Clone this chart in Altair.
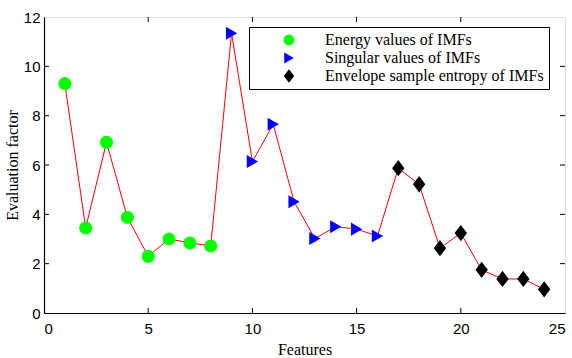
import altair as alt
import pandas as pd

features = list(range(1, 25))
energy = [9.3, 3.45, 6.92, 3.88, 2.3, 3.0, 2.84, 2.72]
singular = [11.34, 6.14, 7.65, 4.51, 3.02, 3.5, 3.4, 3.12]
entropy = [5.87, 5.22, 2.63, 3.24, 1.75, 1.38, 1.38, 0.96]
groups = ["Energy values of IMFs", "Singular values of IMFs", "Envelope sample entropy of IMFs"]
x_ticks = [5, 10, 15, 20]
y_ticks = [2, 4, 6, 8, 10]

values = energy + singular + entropy
labels = [groups[0]] * 8 + [groups[1]] * 8 + [groups[2]] * 8
df = pd.DataFrame({"x": features, "y": values, "g": labels})

W, H = 521, 296
xs = alt.Scale(domain=[0, 25], nice=False)
ys = alt.Scale(domain=[0, 12], nice=False)

base = alt.Chart(df)
line = base.mark_line(color="#ff0000", strokeWidth=1).encode(
    x=alt.X("x:Q", scale=xs, title="Features",
            axis=alt.Axis(values=[0, 5, 10, 15, 20, 25], tickSize=0, labelPadding=8,
                          labelFontSize=15, labelFont="Liberation Sans", labelColor="black",
                          titleFont="Liberation Serif", titleFontSize=16, titleFontWeight="normal",
                          titleColor="black", titlePadding=5, domainColor="black", domainWidth=1.2,
                          grid=False)),
    y=alt.Y("y:Q", scale=ys, title="Evaluation factor",
            axis=alt.Axis(values=[0, 2, 4, 6, 8, 10, 12], tickSize=0, labelPadding=4,
                          labelFontSize=15, labelFont="Liberation Sans", labelColor="black",
                          titleFont="Liberation Serif", titleFontSize=16, titleFontWeight="normal",
                          titleColor="black", titlePadding=3, domainColor="black", domainWidth=1.2,
                          grid=False)),
    order="x:Q",
)

diamond = "M0,-1.25L0.95,0L0,1.25L-0.95,0Z"
points = base.mark_point(filled=True, opacity=1, size=170).encode(
    x=alt.X("x:Q", scale=xs),
    y=alt.Y("y:Q", scale=ys),
    color=alt.Color("g:N", scale=alt.Scale(domain=groups, range=["#00ff00", "#0000ff", "#000000"]),
                    legend=alt.Legend(title=None, orient="none", legendX=205, legendY=10,
                                      labelFont="Liberation Serif", labelFontSize=16, labelColor="black",
                                      strokeColor="black", fillColor="white", padding=5,
                                      symbolOffset=27, labelOffset=28, rowPadding=2,
                                      symbolSize=120, labelLimit=400)),
    shape=alt.Shape("g:N", scale=alt.Scale(domain=groups, range=["circle", "triangle-right", diamond]),
                    legend=None),
)

tdf_x = pd.DataFrame({"t": x_ticks})
tdf_y = pd.DataFrame({"t": y_ticks})
tb = alt.Chart(tdf_x).mark_rule(color="black", strokeWidth=1).encode(
    x=alt.X("t:Q", scale=xs), y=alt.value(H), y2=alt.value(H - 5))
tt = alt.Chart(tdf_x).mark_rule(color="black", strokeWidth=1).encode(
    x=alt.X("t:Q", scale=xs), y=alt.value(0), y2=alt.value(5))
tl = alt.Chart(tdf_y).mark_rule(color="black", strokeWidth=1).encode(
    y=alt.Y("t:Q", scale=ys), x=alt.value(0), x2=alt.value(5))
tr = alt.Chart(tdf_y).mark_rule(color="black", strokeWidth=1).encode(
    y=alt.Y("t:Q", scale=ys), x=alt.value(W), x2=alt.value(W - 5))

chart = alt.layer(line, tb, tt, tl, tr, points).properties(
    width=W, height=H,
    autosize=alt.AutoSizeParams(type="none"),
    padding={"left": 44, "top": 17, "right": 7, "bottom": 45},
).configure_view(stroke="black", strokeWidth=1.2).configure(background="white")

chart.save("out.html", embed_options={"renderer": "svg", "actions": False})
